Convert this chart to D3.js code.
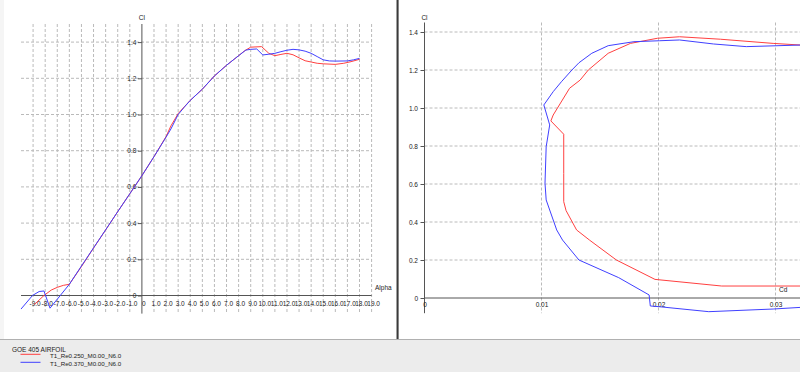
<!DOCTYPE html>
<html>
<head>
<meta charset="utf-8">
<script src="https://cdn.jsdelivr.net/npm/d3@7"></script>
<style>
  body { margin: 0; background: #ececec; }
  svg { display: block; }
</style>
</head>
<body>
<div id="canvas"></div>
<script>
"use strict"

/* Data */
// Cl vs Alpha, Re 0.250 (red)
let alphaRed = [-8.9, -8.1, -7.5, -7.0, -6.5, -6.0, -5.0, -4.0, -3.0, -2.0, -1.0, 0.0, 1.0, 2.0, 2.4, 3.0, 3.5, 4.0,
    5.0, 6.0, 7.0, 8.0, 8.5, 9.0, 9.9, 10.5, 11.0, 11.5, 12.0, 12.5, 13.0, 13.5, 14.0, 14.5, 15.0, 16.0, 16.7, 17.3, 18.0];
let clRed = [-0.05, 0.0, 0.03, 0.045, 0.056, 0.062, 0.160, 0.262, 0.362, 0.463, 0.562, 0.662, 0.767, 0.878, 0.937, 1.005, 1.042, 1.078,
    1.140, 1.213, 1.272, 1.325, 1.352, 1.372, 1.375, 1.338, 1.325, 1.332, 1.338, 1.330, 1.313, 1.297, 1.290, 1.283, 1.280, 1.277, 1.283, 1.292, 1.305];

// Cl vs Alpha, Re 0.370 (blue)
let alphaBlue = [-10.0, -9.05, -8.5, -8.1, -7.6, -6.0, -5.0, -4.0, -3.0, -2.0, -1.0, 0.0, 1.0, 2.0, 2.4, 3.0, 3.5, 4.0,
    5.0, 6.0, 7.0, 8.0, 8.6, 9.0, 9.5, 10.0, 10.5, 11.0, 11.5, 12.0, 12.5, 13.0, 13.5, 14.0, 14.5, 15.0, 15.5, 16.0, 17.0, 17.5, 18.0];
let clBlue = [-0.075, 0.0, 0.022, 0.025, -0.07, 0.062, 0.163, 0.263, 0.363, 0.463, 0.562, 0.662, 0.767, 0.875, 0.92, 1.0, 1.04, 1.078,
    1.140, 1.213, 1.272, 1.325, 1.356, 1.360, 1.362, 1.329, 1.333, 1.338, 1.347, 1.355, 1.360, 1.357, 1.350, 1.338, 1.320, 1.302, 1.296, 1.295, 1.296, 1.302, 1.310];

// Cl vs Cd polars
let cdRed = [0.0325, 0.0254, 0.0197, 0.0164, 0.0141, 0.0130, 0.0121, 0.0119, 0.0119, 0.0119, 0.0108, 0.0110, 0.0124, 0.0133,
    0.0140, 0.0157, 0.0176, 0.0199, 0.0218, 0.0253, 0.0298, 0.0325];
let clRedPolar = [0.063, 0.063, 0.098, 0.200, 0.305, 0.358, 0.460, 0.507, 0.656, 0.862, 0.932, 0.963, 1.104, 1.147,
    1.200, 1.288, 1.340, 1.367, 1.375, 1.362, 1.340, 1.330];
let cdBlue = [0.0325, 0.0298, 0.0243, 0.0201, 0.0193, 0.0192, 0.0166, 0.0132, 0.0118, 0.0113, 0.0104, 0.0103, 0.0104, 0.0107,
    0.0102, 0.0110, 0.0117, 0.0126, 0.0132, 0.0143, 0.0157, 0.0179, 0.0201, 0.0218, 0.0247, 0.0275, 0.0325];
let clBluePolar = [-0.048, -0.058, -0.072, -0.046, -0.042, 0.016, 0.107, 0.200, 0.305, 0.358, 0.516, 0.604, 0.796, 0.911,
    1.016, 1.086, 1.138, 1.200, 1.238, 1.288, 1.328, 1.349, 1.354, 1.358, 1.337, 1.323, 1.332];

// ticks
let alphaTicks = d3.range(-9, 20);
let clTicks = [0, 0.2, 0.4, 0.6, 0.8, 1.0, 1.2, 1.4];
let cdTicks = [0, 0.01, 0.02, 0.03];

let legendTitle = "GOE 405 AIRFOIL";
let seriesNames = ["T1_Re0.250_M0.00_N6.0", "T1_Re0.370_M0.00_N6.0"];
let seriesColors = ["#ff4040", "#4040ff"];

/* Drawing config */
let svgWidth = 800;
let svgHeight = 372;
let panelBottom = 339;
let font = "'Liberation Sans', Arial, Helvetica, sans-serif";
let fontSize = 6.5;
let gridColor = "#bababa";
let axisColor = "#555";

let svg = d3.select("#canvas")
    .append("svg")
    .attr("width", svgWidth)
    .attr("height", svgHeight)
    .attr("font-family", font);

/* panels */
svg.append("rect").attr("width", svgWidth).attr("height", svgHeight).attr("fill", "#ececec");
svg.append("rect").attr("x", 0).attr("y", 0).attr("width", 396).attr("height", panelBottom).attr("fill", "white");
svg.append("rect").attr("x", 399).attr("y", 0).attr("width", 401).attr("height", panelBottom).attr("fill", "white");
svg.append("rect").attr("x", 0).attr("y", 0).attr("width", 4).attr("height", panelBottom).attr("fill", "#f5f5f5");
svg.append("rect").attr("x", 396).attr("y", 0).attr("width", 3).attr("height", panelBottom + 1).attr("fill", "#bbb");
svg.append("rect").attr("x", 396.8).attr("y", 0).attr("width", 1.6).attr("height", panelBottom + 1).attr("fill", "#3a3a3a");
svg.append("line").attr("x1", 0).attr("x2", svgWidth).attr("y1", panelBottom + 0.5).attr("y2", panelBottom + 0.5)
    .attr("stroke", "#b0b0b0");

svg.append("clipPath").attr("id", "clipR")
    .append("rect").attr("x", 399).attr("y", 0).attr("width", 401).attr("height", panelBottom);

function fmt1(v) { return v === 0 ? "0" : v.toFixed(1); }

/* ---------- Left chart: Cl vs Alpha ---------- */
let xL = d3.scaleLinear().domain([-10, 19]).range([21, 371.6]);
let yL = d3.scaleLinear().domain([-0.1, 1.5]).range([313.6, 24]);

let gL = svg.append("g");

// grid
gL.selectAll(".vgrid").data(alphaTicks.filter(d => d !== 0)).join("line")
    .attr("x1", d => xL(d)).attr("x2", d => xL(d))
    .attr("y1", yL(1.5)).attr("y2", yL(-0.1))
    .attr("stroke", gridColor).attr("stroke-dasharray", "3,2");
gL.selectAll(".hgrid").data(clTicks.filter(d => d !== 0)).join("line")
    .attr("x1", xL(-10)).attr("x2", xL(19))
    .attr("y1", d => yL(d)).attr("y2", d => yL(d))
    .attr("stroke", gridColor).attr("stroke-dasharray", "3,2");

// axes lines
gL.append("line").attr("x1", xL(-10)).attr("x2", xL(19)).attr("y1", yL(0)).attr("y2", yL(0)).attr("stroke", axisColor);
gL.append("line").attr("x1", xL(0)).attr("x2", xL(0)).attr("y1", yL(1.5)).attr("y2", yL(-0.1)).attr("stroke", axisColor);

gL.append("g")
    .attr("transform", `translate(0,${yL(0)})`)
    .call(d3.axisBottom(xL).tickValues(alphaTicks).tickFormat(fmt1).tickSize(0).tickPadding(5.5))
    .call(g => g.select(".domain").remove())
    .call(g => g.selectAll("text").attr("dx", 1.5).attr("fill", "#222")
        .attr("font-size", fontSize).attr("font-family", font));

gL.append("g")
    .attr("transform", `translate(${xL(0)},0)`)
    .call(d3.axisLeft(yL).tickValues(clTicks).tickFormat(fmt1).tickSize(4).tickPadding(1.5))
    .call(g => g.select(".domain").remove())
    .call(g => g.selectAll("line").attr("stroke", axisColor))
    .call(g => g.selectAll("text").attr("fill", "#222")
        .attr("font-size", fontSize).attr("font-family", font));

gL.append("text").attr("x", xL(0)).attr("y", 19.5).attr("text-anchor", "middle")
    .attr("font-size", fontSize).attr("fill", "#222").text("Cl");
gL.append("text").attr("x", 375).attr("y", 289.5)
    .attr("font-size", fontSize).attr("fill", "#222").text("Alpha");

let lineL = d3.line().x(d => xL(d[0])).y(d => yL(d[1]));
gL.append("path").datum(d3.zip(alphaRed, clRed))
    .attr("d", lineL).attr("fill", "none").attr("stroke", seriesColors[0]).attr("stroke-width", 1);
gL.append("path").datum(d3.zip(alphaBlue, clBlue))
    .attr("d", lineL).attr("fill", "none").attr("stroke", seriesColors[1]).attr("stroke-width", 1);

/* ---------- Right chart: Cl vs Cd ---------- */
let xR = d3.scaleLinear().domain([0, 0.03]).range([424.5, 775.5]);
let yR = d3.scaleLinear().domain([0, 1.4]).range([298, 32]);

let gR = svg.append("g").attr("clip-path", "url(#clipR)");

gR.selectAll(".vgrid").data(cdTicks.filter(d => d !== 0)).join("line")
    .attr("x1", d => xR(d)).attr("x2", d => xR(d))
    .attr("y1", yR(1.45)).attr("y2", yR(-0.08))
    .attr("stroke", gridColor).attr("stroke-dasharray", "3,2");
gR.selectAll(".hgrid").data(clTicks.filter(d => d !== 0)).join("line")
    .attr("x1", xR(0)).attr("x2", 800)
    .attr("y1", d => yR(d)).attr("y2", d => yR(d))
    .attr("stroke", gridColor).attr("stroke-dasharray", "3,2");

gR.append("line").attr("x1", xR(0)).attr("x2", 800).attr("y1", yR(0)).attr("y2", yR(0)).attr("stroke", axisColor);
gR.append("line").attr("x1", xR(0)).attr("x2", xR(0)).attr("y1", yR(1.45)).attr("y2", yR(-0.08)).attr("stroke", axisColor);

gR.append("g")
    .attr("transform", `translate(0,${yR(0)})`)
    .call(d3.axisBottom(xR).tickValues(cdTicks).tickFormat(d => d === 0 ? "0" : d.toFixed(2)).tickSize(0).tickPadding(4.5))
    .call(g => g.select(".domain").remove())
    .call(g => g.selectAll("text").attr("fill", "#222")
        .attr("font-size", fontSize).attr("font-family", font));

gR.append("g")
    .attr("transform", `translate(${xR(0)},0)`)
    .call(d3.axisLeft(yR).tickValues(clTicks).tickFormat(fmt1).tickSize(4).tickPadding(2.5))
    .call(g => g.select(".domain").remove())
    .call(g => g.selectAll("line").attr("stroke", axisColor))
    .call(g => g.selectAll("text").attr("fill", "#222")
        .attr("font-size", fontSize).attr("font-family", font));

gR.append("text").attr("x", xR(0)).attr("y", 19.5).attr("text-anchor", "middle")
    .attr("font-size", fontSize).attr("fill", "#222").text("Cl");
gR.append("text").attr("x", 779).attr("y", 291.5)
    .attr("font-size", fontSize).attr("fill", "#222").text("Cd");

let lineR = d3.line().x(d => xR(d[0])).y(d => yR(d[1]));
gR.append("path").datum(d3.zip(cdRed, clRedPolar))
    .attr("d", lineR).attr("fill", "none").attr("stroke", seriesColors[0]).attr("stroke-width", 1);
gR.append("path").datum(d3.zip(cdBlue, clBluePolar))
    .attr("d", lineR).attr("fill", "none").attr("stroke", seriesColors[1]).attr("stroke-width", 1);

/* ---------- Legend ---------- */
svg.append("text").attr("x", 12).attr("y", 351.5)
    .attr("font-size", 6.5).attr("fill", "#222").text(legendTitle);

let legendRows = svg.selectAll(".legendRow").data(seriesNames).join("g")
    .attr("transform", (d, i) => `translate(0,${354.3 + i * 8})`);
legendRows.append("line")
    .attr("x1", 20.5).attr("x2", 40.5).attr("y1", 0).attr("y2", 0)
    .attr("stroke", (d, i) => seriesColors[i]).attr("stroke-width", 1);
legendRows.append("text")
    .attr("x", 50).attr("y", 3.2)
    .attr("font-size", 6.2).attr("fill", "#222").text(d => d);
</script>
</body>
</html>
